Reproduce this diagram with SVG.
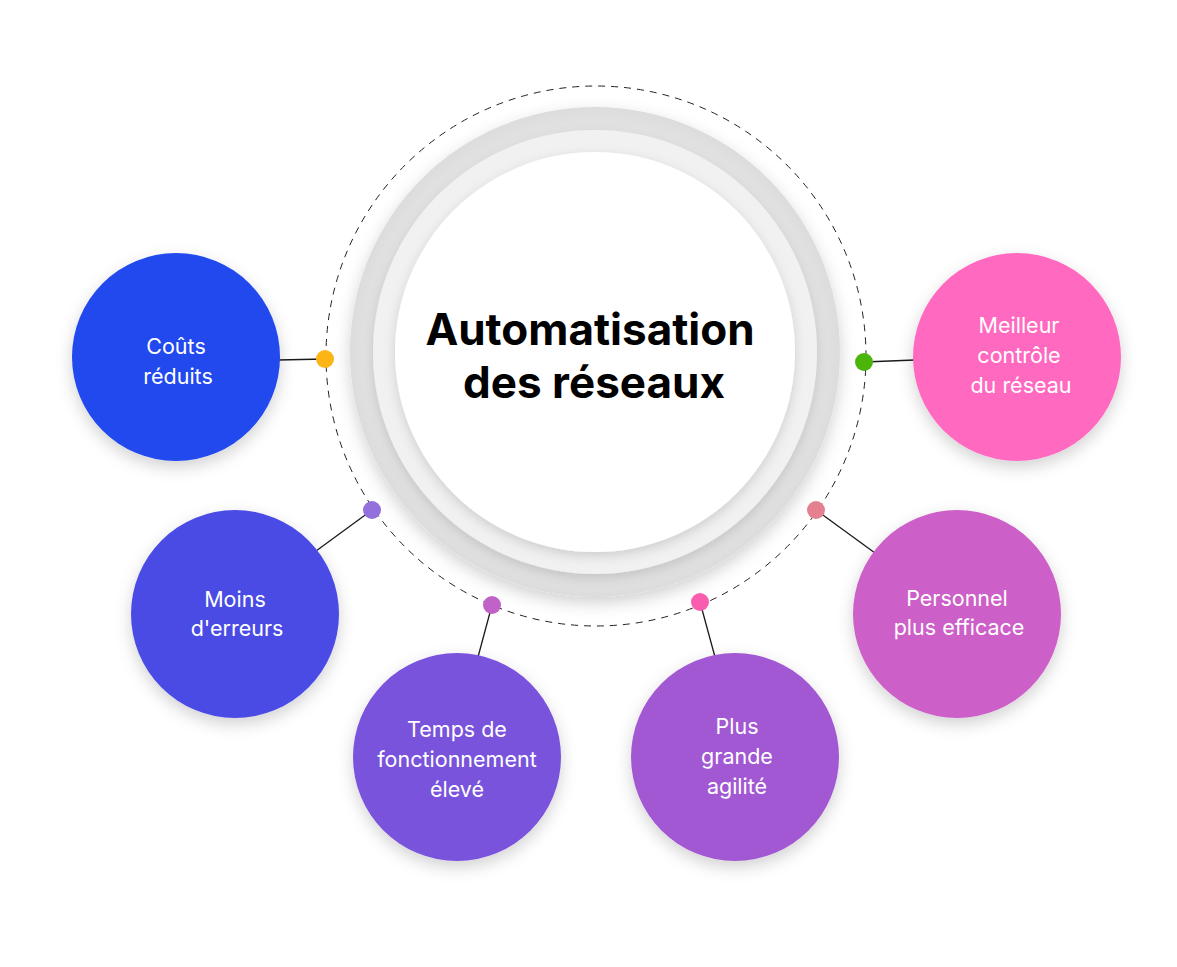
<svg xmlns="http://www.w3.org/2000/svg" width="1177" height="967" viewBox="0 0 1177 967">
<defs>
<filter id="sh" x="-30%" y="-30%" width="160%" height="160%">
<feDropShadow dx="0" dy="6" stdDeviation="8" flood-color="#000" flood-opacity="0.18"/>
</filter>
<filter id="shs" x="-30%" y="-30%" width="160%" height="160%">
<feDropShadow dx="0" dy="4" stdDeviation="6" flood-color="#000" flood-opacity="0.15"/>
</filter>
<radialGradient id="ringg" cx="0.5" cy="0.5" r="0.5">
<stop offset="0.88" stop-color="#e6e6e6"/>
<stop offset="1" stop-color="#dcdcdc"/>
</radialGradient>
</defs>
<style>
.node text{font-family:Inter,"Liberation Sans",sans-serif;font-size:21.5px;fill:#fff;text-anchor:middle}
.title{font-family:Inter,"Liberation Sans",sans-serif;font-size:44px;font-weight:700;fill:#000;text-anchor:middle}
.conn line{stroke:#1a1a1a;stroke-width:1.3}
</style>
<rect width="1177" height="967" fill="#fff"/>
<g id="center">
<circle cx="595" cy="352" r="245" fill="url(#ringg)" filter="url(#sh)"/>
<circle cx="595" cy="352" r="222" fill="#f1f1f1" filter="url(#shs)"/>
<circle cx="595" cy="352" r="200" fill="#fff" filter="url(#shs)"/>
<circle cx="596" cy="356" r="270" fill="none" stroke="#222" stroke-width="1" stroke-dasharray="7 6"/>
<text class="title" x="590" y="345">Automatisation</text>
<text class="title" x="594" y="398">des réseaux</text>
</g>
<g id="connectors" class="conn">
<line x1="278" y1="360" x2="325" y2="359"/>
<line x1="372" y1="510" x2="316" y2="551"/>
<line x1="492" y1="605" x2="478" y2="657"/>
<line x1="700" y1="602" x2="715" y2="657"/>
<line x1="816" y1="510" x2="875" y2="553"/>
<line x1="864" y1="362" x2="915" y2="360"/>
<circle cx="325" cy="359" r="9" fill="#fdb515"/>
<circle cx="372" cy="510" r="9" fill="#9370db"/>
<circle cx="492" cy="605" r="9" fill="#c062c8"/>
<circle cx="700" cy="602" r="9" fill="#f95db0"/>
<circle cx="816" cy="510" r="9" fill="#e4808f"/>
<circle cx="864" cy="362" r="9" fill="#4cb50a"/>
</g>
<g id="n1" class="node">
<circle cx="176" cy="357" r="104" fill="#2049ee" filter="url(#sh)"/>
<text x="176" y="354">Coûts</text>
<text x="178" y="384">réduits</text>
</g>
<g id="n2" class="node">
<circle cx="235" cy="614" r="104" fill="#4a4be4" filter="url(#sh)"/>
<text x="235" y="607">Moins</text>
<text x="237" y="636">d'erreurs</text>
</g>
<g id="n3" class="node">
<circle cx="457" cy="757" r="104" fill="#7952dc" filter="url(#sh)"/>
<text x="457" y="737">Temps de</text>
<text x="457" y="767">fonctionnement</text>
<text x="457" y="797">élevé</text>
</g>
<g id="n4" class="node">
<circle cx="735" cy="757" r="104" fill="#a259d2" filter="url(#sh)"/>
<text x="737" y="734">Plus</text>
<text x="737" y="764">grande</text>
<text x="737" y="794">agilité</text>
</g>
<g id="n5" class="node">
<circle cx="957" cy="614" r="104" fill="#cd5fc8" filter="url(#sh)"/>
<text x="957" y="606">Personnel</text>
<text x="959" y="635">plus efficace</text>
</g>
<g id="n6" class="node">
<circle cx="1017" cy="357" r="104" fill="#ff69c0" filter="url(#sh)"/>
<text x="1019" y="333">Meilleur</text>
<text x="1019" y="363">contrôle</text>
<text x="1021" y="393">du réseau</text>
</g>
</svg>
